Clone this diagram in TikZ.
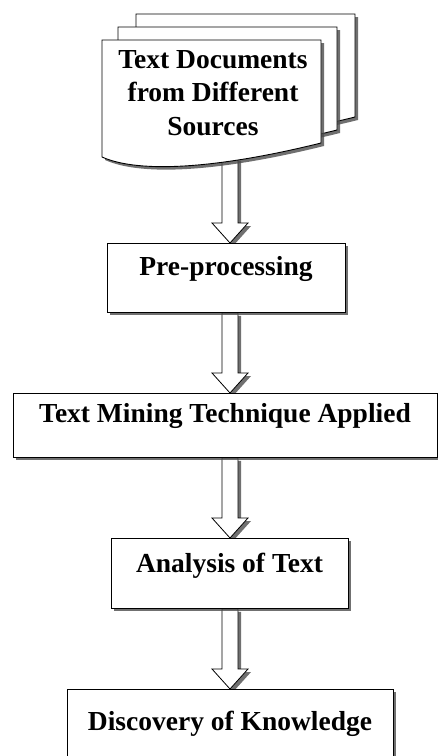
\documentclass[tikz,border=0pt]{standalone}
\usepackage{fontspec}
\setmainfont{Liberation Serif}
\usetikzlibrary{shadows,calc,backgrounds}
\tikzset{
  shade/.style={drop shadow={shadow xshift=3pt, shadow yshift=-3pt, fill=black!70, opacity=0.8}},
  txt/.style={font=\fontsize{27.5}{33.5}\selectfont\bfseries, text=black},
  box/.style={txt, draw=black, line width=0.9pt, fill=white, shade, inner xsep=0pt, inner ysep=0pt, anchor=north},
  docpath/.style={draw=black, line width=0.9pt, fill=white, shade},
  blockarrow/.style={draw=black, line width=0.8pt, fill=white, shade, line join=miter}
}
\newcommand\docshape[2]{\draw[docpath, shift={(#1,#2)}] (102,40) -- (321,40) -- (321,143) .. controls (220,168) and (140,174) .. (102,157) -- cycle;}
\newcommand\barrow[2]{\draw[blockarrow] ($(#1)+(-8,0)$) -- ($(#2)+(-8,-20)$) -- ($(#2)+(-18,-20)$) -- (#2) -- ($(#2)+(18,-20)$) -- ($(#2)+(8,-20)$) -- ($(#1)+(8,0)$) -- cycle;}
\begin{document}
\begin{tikzpicture}[x=1pt,y=-1pt]
\useasboundingbox (0,0) rectangle (438,756);
\coordinate (ax) at (230,0);
\coordinate (docbot) at (230,158);
% documents
\docshape{34}{-26}
\docshape{16}{-13}
\docshape{0}{0}
\node[txt, align=center, inner sep=0pt] (docs) at (213,93) {Text Documents\\from Different\\Sources};
% boxes
\node[box, minimum width=238pt, text height=32pt, text depth=37pt] (pre) at (226,243) {Pre-processing};
\node[box, minimum width=424pt, text height=29pt, text depth=35pt] (tm) at (225,393) {Text Mining Technique Applied};
\node[box, minimum width=237pt, text height=34pt, text depth=36pt] (an) at (229.5,538) {Analysis of Text};
\node[box, minimum width=326pt, text height=41pt, text depth=40pt] (dk) at (230,689) {Discovery of Knowledge};
\coordinate (a1e) at (pre.north -| ax);
\coordinate (a2s) at (pre.south -| ax);
\coordinate (a2e) at (tm.north -| ax);
\coordinate (a3s) at (tm.south -| ax);
\coordinate (a3e) at (an.north -| ax);
\coordinate (a4s) at (an.south -| ax);
\coordinate (a4e) at (dk.north -| ax);
\begin{scope}[on background layer]
\barrow{docbot}{a1e}
\barrow{a2s}{a2e}
\barrow{a3s}{a3e}
\barrow{a4s}{a4e}
\end{scope}
\end{tikzpicture}
\end{document}
